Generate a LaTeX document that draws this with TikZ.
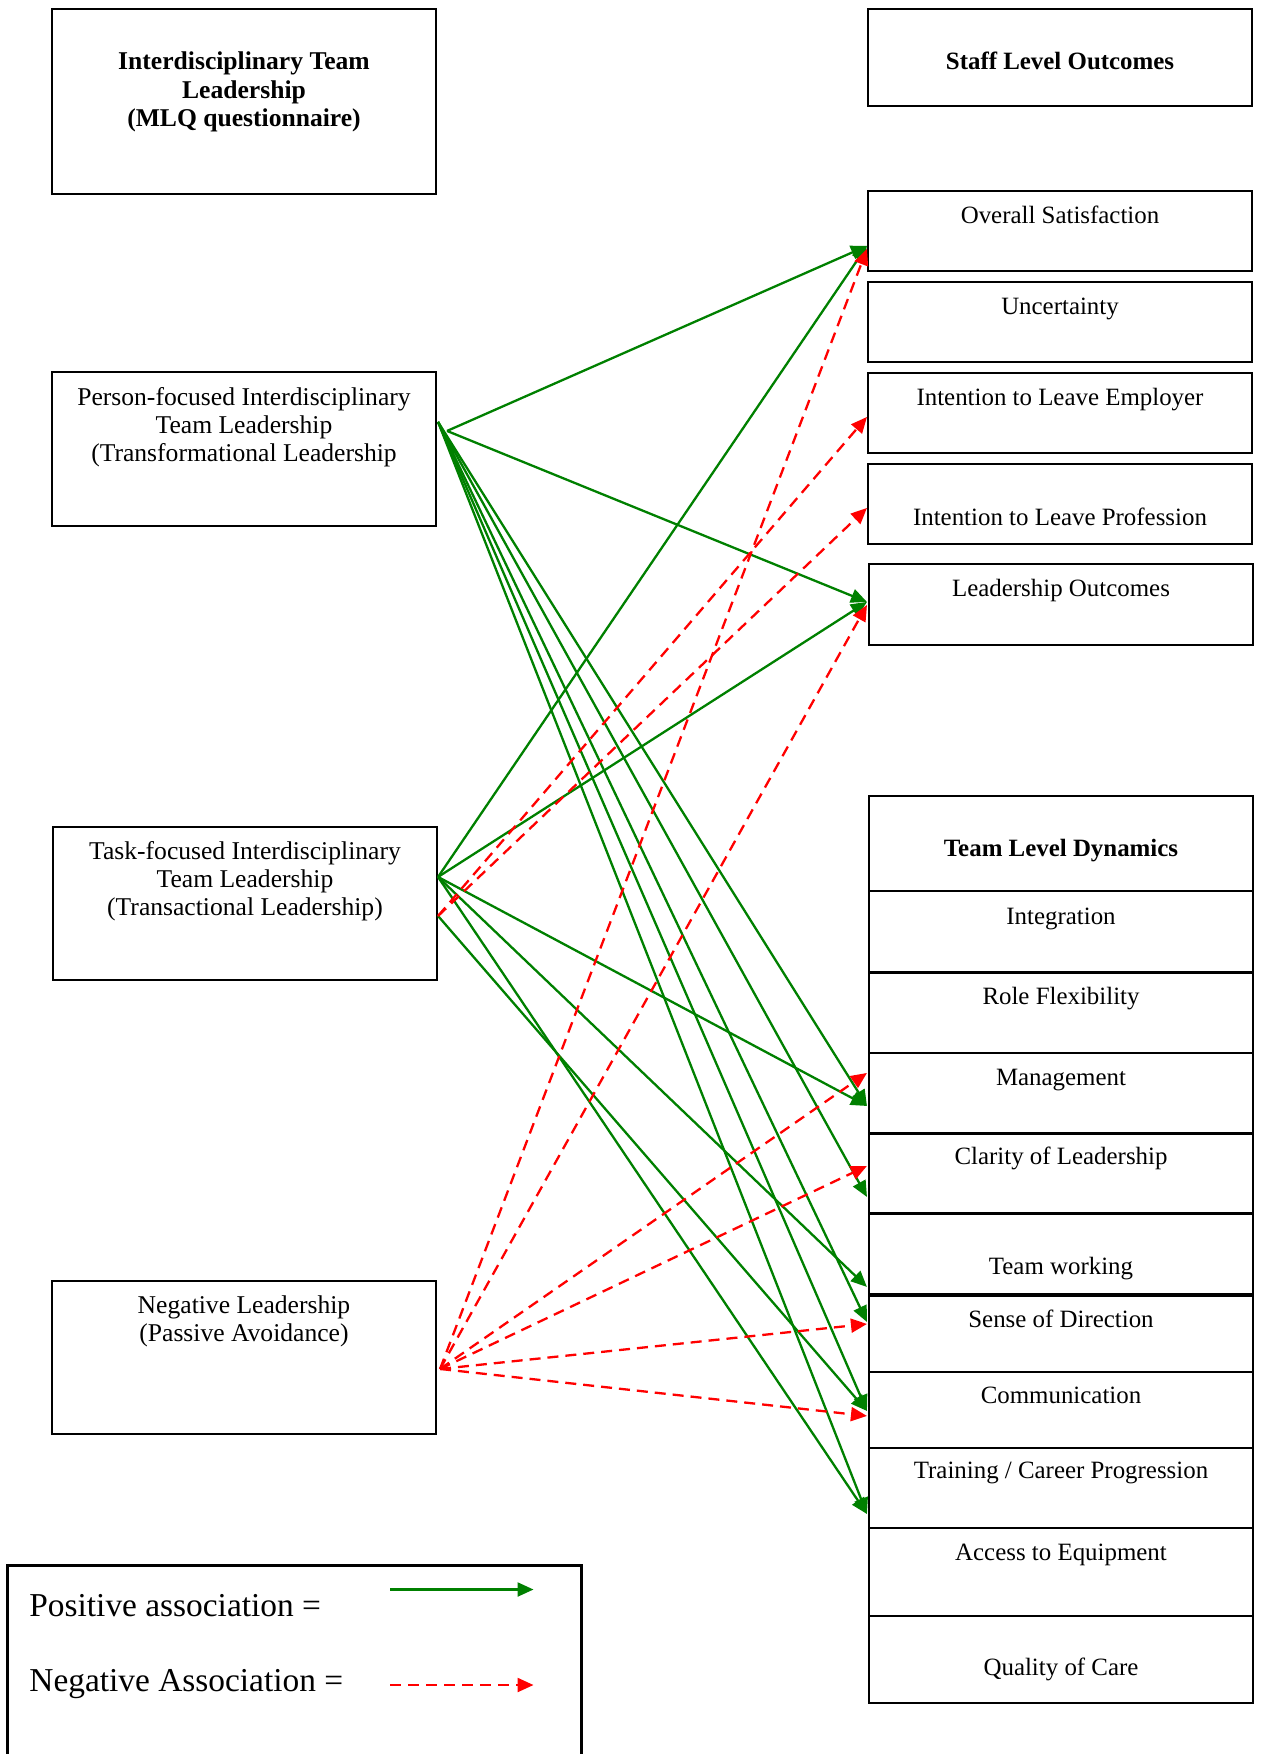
\documentclass[tikz,border=0pt]{standalone}
\usepackage{fontspec}
\setmainfont{Liberation Serif}
\usetikzlibrary{arrows.meta,calc,fit}

\definecolor{posgreen}{RGB}{0,128,0}
\definecolor{negred}{RGB}{255,0,0}

% centred multi-line text whose baseline is that of its first line
\newcommand\stackedlines[1]{\begin{tabular}[t]{@{}c@{}}#1\end{tabular}}

\begin{document}
\begin{tikzpicture}[x=0.5pt,y=-0.5pt,
  box/.style={draw=black,line width=1.05pt,inner sep=0pt},
  lefttxt/.style={inner sep=0pt,anchor=base,font=\fontsize{12.8}{14}\selectfont},
  righttxt/.style={inner sep=0pt,anchor=base,font=\fontsize{12.45}{14}\selectfont},
  legtxt/.style={inner sep=0pt,anchor=base west,font=\fontsize{16.7}{20}\selectfont},
  arrowhd/.style={-{Triangle[length=8pt,width=7pt]}},
  posarrow/.style={draw=posgreen,line width=1.15pt,arrowhd},
  negarrow/.style={draw=negred,line width=1.15pt,dash pattern=on 5.5pt off 3.5pt,arrowhd},
]
\useasboundingbox (0,0) rectangle (1260,1754);

% ---------- leadership column ----------
\node[box,fit={(52,9)(436,194)}]     (B1) {};
\node[box,fit={(52,372)(436,526)}]   (P)  {};
\node[box,fit={(53,827)(437,980)}]   (T)  {};
\node[box,fit={(52,1281)(436,1434)}] (N)  {};

\node[lefttxt,font=\bfseries\fontsize{12.8}{14.3}\selectfont] (B1t) at ($(B1.north)+(0,61.5)$)
  {\stackedlines{Interdisciplinary Team\\Leadership\\(MLQ questionnaire)}};
\node[lefttxt] (Pt) at ($(P.north)+(0,34.4)$)
  {\stackedlines{Person-focused Interdisciplinary\\Team Leadership\\(Transformational Leadership}};
\node[lefttxt] (Tt) at ($(T.north)+(0,33.4)$)
  {\stackedlines{Task-focused Interdisciplinary\\Team Leadership\\(Transactional Leadership)}};
\node[lefttxt] (Nt) at ($(N.north)+(0,33.9)$)
  {\stackedlines{Negative Leadership\\(Passive Avoidance)}};

% ---------- staff level outcomes ----------
\node[box,fit={(868,9)(1252,106)}]   (SLO) {};
\node[box,fit={(868,191)(1252,271)}] (OS)  {};
\node[box,fit={(868,282)(1252,362)}] (UN)  {};
\node[box,fit={(868,373)(1252,453)}] (IE)  {};
\node[box,fit={(868,464)(1252,544)}] (IP)  {};
\node[box,fit={(869,564)(1253,645)}] (LO)  {};

\node[righttxt,font=\bfseries\fontsize{12.45}{14}\selectfont] (SLOt) at ($(SLO.north)+(0,62)$) {Staff Level Outcomes};
\node[righttxt] (OSt) at ($(OS.north)+(0,33.5)$) {Overall Satisfaction};
\node[righttxt] (UNt) at ($(UN.north)+(0,33.5)$) {Uncertainty};
\node[righttxt] (IEt) at ($(IE.north)+(0,34)$) {Intention to Leave Employer};
\node[righttxt] (IPt) at ($(IP.north)+(0,62.5)$) {Intention to Leave Profession};
\node[righttxt] (LOt) at ($(LO.north)+(0,33.5)$) {Leadership Outcomes};

% ---------- team level dynamics ----------
\node[box,fit={(869,796)(1253,891)}]     (TLD) {};
\node[box,fit={(869,891)(1253,972.5)}]   (IN)  {};
\node[box,fit={(869,972.5)(1253,1053)}]  (RF)  {};
\node[box,fit={(869,1053)(1253,1133.5)}] (MG)  {};
\node[box,fit={(869,1133.5)(1253,1213.5)}] (CL) {};
\node[box,fit={(869,1213.5)(1253,1294)}] (TW)  {};
\node[box,fit={(869,1296)(1253,1372)}]   (SD)  {};
\node[box,fit={(869,1372)(1253,1448)}]   (CM)  {};
\node[box,fit={(869,1448)(1253,1528)}]   (TR)  {};
\node[box,fit={(869,1528)(1253,1616)}]   (AE)  {};
\node[box,fit={(869,1616)(1253,1703)}]   (QC)  {};

\node[righttxt,font=\bfseries\fontsize{12.45}{14}\selectfont] (TLDt) at ($(TLD.north)+(0,61.5)$) {Team Level Dynamics};
\node[righttxt] (INt) at ($(IN.north)+(0,35)$) {Integration};
\node[righttxt] (RFt) at ($(RF.north)+(0,33.5)$) {Role Flexibility};
\node[righttxt] (MGt) at ($(MG.north)+(0,33.5)$) {Management};
\node[righttxt] (CLt) at ($(CL.north)+(0,32.5)$) {Clarity of Leadership};
\node[righttxt] (TWt) at ($(TW.north)+(0,62.5)$) {Team working};
\node[righttxt] (SDt) at ($(SD.north)+(0,32.3)$) {Sense of Direction};
\node[righttxt] (CMt) at ($(CM.north)+(0,32.3)$) {Communication};
\node[righttxt] (TRt) at ($(TR.north)+(0,31.3)$) {Training / Career Progression};
\node[righttxt] (AEt) at ($(AE.north)+(0,33.7)$) {Access to Equipment};
\node[righttxt] (QCt) at ($(QC.north)+(0,60.7)$) {Quality of Care};

% ---------- connector ports ----------
\coordinate (P-a) at ($(P.north east)+(1,51)$);
\coordinate (P-b) at ($(P.north east)+(10,60)$);
\coordinate (T-a) at ($(T.north east)+(0,51)$);
\coordinate (T-b) at ($(T.north east)+(0,90)$);
\coordinate (N-a) at ($(N.north east)+(3,89)$);

\coordinate (OS-g) at ($(OS.north west)+(0,56)$);
\coordinate (OS-r) at ($(OS.north west)+(0,59)$);
\coordinate (IE-r) at ($(IE.north west)+(0,45)$);
\coordinate (IP-r) at ($(IP.north west)+(0,45)$);
\coordinate (LO-g) at ($(LO.north west)+(-1,39)$);
\coordinate (LO-r) at ($(LO.north west)+(-1,42)$);
\coordinate (MG-r) at ($(MG.north west)+(-1,21)$);
\coordinate (MG-g) at ($(MG.north west)+(-1,54)$);
\coordinate (CL-r) at ($(CL.north west)+(-1,33.5)$);
\coordinate (CL-g) at ($(CL.north west)+(-1,64.5)$);
\coordinate (TW-g) at ($(TW.north west)+(-1,74.5)$);
\coordinate (SD-g) at ($(SD.north west)+(-1,27)$);
\coordinate (SD-r) at ($(SD.north west)+(-1,29)$);
\coordinate (CM-g) at ($(CM.north west)+(-1,40)$);
\coordinate (CM-r) at ($(CM.north west)+(-1,45)$);
\coordinate (TR-g) at ($(TR.north west)+(-1,67)$);

% ---------- positive associations ----------
\draw[posarrow] (P-b) -- (OS-g);
\draw[posarrow] (P-b) -- (LO-g);
\draw[posarrow] (P-a) -- (MG-g);
\draw[posarrow] (P-a) -- (CL-g);
\draw[posarrow] (P-a) -- (SD-g);
\draw[posarrow] (P-a) -- (CM-g);
\draw[posarrow] (P-a) -- (TR-g);
\draw[posarrow] (T-a) -- (OS-g);
\draw[posarrow] (T-a) -- (LO-g);
\draw[posarrow] (T-a) -- (MG-g);
\draw[posarrow] (T-a) -- (TW-g);
\draw[posarrow] (T-a) -- (TR-g);
\draw[posarrow] (T-b) -- (CM-g);

% ---------- negative associations ----------
\draw[negarrow] (T-b) -- (IE-r);
\draw[negarrow] (T-b) -- (IP-r);
\draw[negarrow] (N-a) -- (OS-r);
\draw[negarrow] (N-a) -- (LO-r);
\draw[negarrow] (N-a) -- (MG-r);
\draw[negarrow] (N-a) -- (CL-r);
\draw[negarrow] (N-a) -- (SD-r);
\draw[negarrow] (N-a) -- (CM-r);

% ---------- key ----------
\node[box,line width=1.5pt,fit={(7,1565)(581,1800)}] (KEY) {};
\node[legtxt] (KEYpos) at (29,1616) {Positive association =};
\node[legtxt] (KEYneg) at (29,1691) {Negative Association =};
\coordinate (KP1) at (390,1589.5);
\coordinate (KP2) at (533.5,1589.5);
\coordinate (KN1) at (390,1685);
\coordinate (KN2) at (533.5,1685);
\draw[posarrow] (KP1) -- (KP2);
\draw[negarrow] (KN1) -- (KN2);
\end{tikzpicture}
\end{document}
